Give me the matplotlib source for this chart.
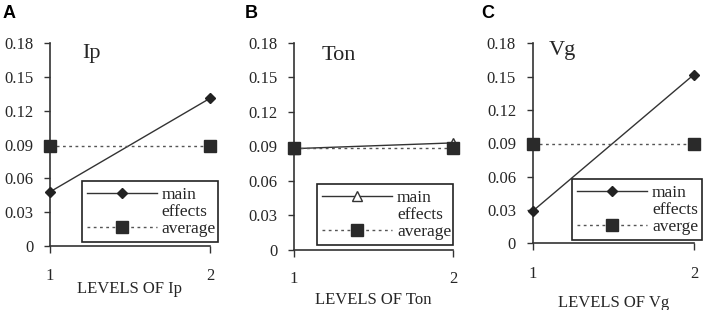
import matplotlib.pyplot as plt
from matplotlib.lines import Line2D

plt.rcParams['font.family'] = ['Liberation Serif', 'DejaVu Serif']

# levels and responses
levels = [1, 2]
ip_main = [0.048, 0.131]
ip_avg = [0.089, 0.089]
ton_main = [0.088, 0.093]
ton_avg = [0.089, 0.089]
vg_main = [0.029, 0.152]
vg_avg = [0.089, 0.089]

yticks = [0, 0.03, 0.06, 0.09, 0.12, 0.15, 0.18]
ytick_labels = ['0', '0.03', '0.06', '0.09', '0.12', '0.15', '0.18']

panels = [
    # letter, title, main, avg, marker, avg label, axes rect, title pos, legend box, letter x, xpad, labelpad
    ('A', 'Ip', ip_main, ip_avg, 'D', 'average', [0.0708, 0.2065, 0.2266, 0.6545],
     (0.20, 0.95), (0.20, 0.02, 0.85, 0.315), 0.004, 11, -2),
    ('B', 'Ton', ton_main, ton_avg, '^', 'average', [0.4164, 0.1935, 0.2252, 0.6688],
     (0.176, 0.94), (0.145, 0.024, 0.855, 0.333), 0.347, 10, 4),
    ('C', 'Vg', vg_main, vg_avg, 'D', 'averge', [0.7545, 0.2150, 0.2285, 0.6450],
     (0.10, 0.966), (0.244, 0.017, 0.808, 0.30), 0.681, 11, 10),
]

fig = plt.figure(figsize=(7.06, 3.10), dpi=100)

axis_col = '#333333'
text_col = '#262626'

for letter, title, main, avg, mk, avg_lab, rect, tpos, lbox, lx, xpad, lpad in panels:
    ax = fig.add_axes(rect)
    if mk == '^':
        ax.plot(levels, main, color=axis_col, lw=1.0, marker='^', ms=7,
                mfc='white', mec=axis_col, mew=1.0, clip_on=False, zorder=3)
    else:
        ax.plot(levels, main, color=axis_col, lw=1.0, marker='D', ms=5.5,
                mfc='#222222', mec='#222222', clip_on=False, zorder=3)
    ax.plot(levels, avg, color='#555555', lw=1.0, ls=(0, (2, 2.5)), marker='s',
            ms=8, mfc='#2a2a2a', mec='#2a2a2a', clip_on=False, zorder=4)

    ax.set_xlim(1, 2)
    ax.set_ylim(0, 0.18)
    ax.set_xticks(levels)
    ax.set_yticks(yticks)
    ax.set_yticklabels(ytick_labels)
    for s in ['top', 'right']:
        ax.spines[s].set_visible(False)
    for s in ['left', 'bottom']:
        ax.spines[s].set_color(axis_col)
        ax.spines[s].set_linewidth(1.2)
    ax.tick_params(axis='y', direction='out', length=4, width=1.0, color=axis_col,
                   labelsize=12, labelcolor=text_col, pad=8)
    ax.tick_params(axis='x', direction='out', length=5, width=1.0, color=axis_col,
                   labelsize=12, labelcolor=text_col, pad=xpad)
    ax.set_xlabel('LEVELS OF ' + title, fontsize=12, color=text_col, labelpad=lpad)
    ax.text(tpos[0], tpos[1], title, transform=ax.transAxes, fontsize=16,
            color=text_col, ha='left', va='center')

    if mk == '^':
        h_main = Line2D([], [], color=axis_col, lw=1.0, marker='^', ms=7,
                        mfc='white', mec=axis_col)
    else:
        h_main = Line2D([], [], color=axis_col, lw=1.0, marker='D', ms=5.5,
                        mfc='#222222', mec='#222222')
    h_blank = Line2D([], [], color='none')
    h_avg = Line2D([], [], color='#555555', lw=1.0, ls=(0, (2, 2.5)), marker='s',
                   ms=8, mfc='#2a2a2a', mec='#2a2a2a')
    leg = ax.legend([h_main, h_blank, h_avg], ['main', 'effects', avg_lab],
                    loc='lower left', bbox_to_anchor=lbox, mode='expand',
                    fontsize=12.5, handlelength=4.0, handletextpad=0.3,
                    labelspacing=0.05, borderpad=0.3, borderaxespad=0,
                    fancybox=False, framealpha=1, edgecolor='#222222',
                    markerscale=1.0)
    leg.get_frame().set_linewidth(1.2)
    for t in leg.get_texts():
        t.set_color(text_col)
    leg.set_clip_on(False)

    fig.text(lx, 1 - 14 / 310, letter, fontsize=13, fontweight='bold',
             family='Liberation Sans', ha='left', va='center', color='black')

fig.savefig('out.png', dpi=100)
